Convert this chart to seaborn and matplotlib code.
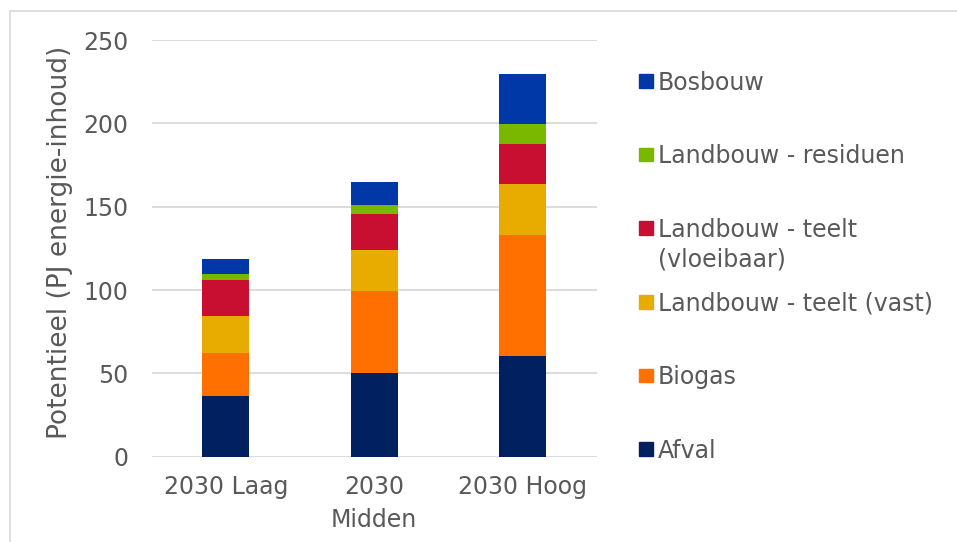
import matplotlib
matplotlib.use("Agg")
import matplotlib.pyplot as plt
import seaborn as sns
import numpy as np
import pandas as pd
from matplotlib.patches import Rectangle
from matplotlib.lines import Line2D

# Data (PJ energy content)
scenarios = ["2030 Laag", "2030\nMidden", "2030 Hoog"]
series = ["Afval", "Biogas", "Landbouw - teelt (vast)",
          "Landbouw - teelt\n(vloeibaar)", "Landbouw - residuen", "Bosbouw"]
afval = [36.4, 50.0, 60.6]
biogas = [26.0, 49.4, 72.4]
teelt_vast = [22.0, 24.4, 30.6]
teelt_vloeibaar = [21.8, 21.6, 24.2]
residuen = [3.4, 5.6, 12.0]
bosbouw = [9.0, 13.6, 29.6]
colors = ["#002060", "#FF7000", "#E8AB00", "#C80F32", "#7AB800", "#0038A8"]

values = [afval, biogas, teelt_vast, teelt_vloeibaar, residuen, bosbouw]
df = pd.DataFrame(np.array(values).T, columns=series)
df["scenario"] = scenarios
cum = df[series].cumsum(axis=1)

sns.set_theme(style="white")
plt.rcParams["font.family"] = ["DejaVu Sans"]
txt = "#595959"
fs = 17

fig = plt.figure(figsize=(9.57, 5.42), dpi=100)
ax = fig.add_axes([151.7 / 957, 1 - 456.7 / 542, 445 / 957, 416.7 / 542])

# stacked bars: draw cumulative totals from top to bottom
for name, col in reversed(list(zip(series, colors))):
    sns.barplot(x=df["scenario"], y=cum[name], color=col, width=0.316,
                saturation=1, linewidth=0, ax=ax, zorder=3)

ax.set_ylim(0, 250)
ax.set_xlim(-0.5, 2.5)
ax.set_yticks([0, 50, 100, 150, 200, 250])
ax.yaxis.grid(True, color="#d9d9d9", linewidth=1.3)
ax.set_axisbelow(True)
for s in ax.spines.values():
    s.set_visible(False)
ax.tick_params(axis="y", length=0, pad=17, labelsize=fs, labelcolor=txt)
ax.tick_params(axis="x", length=0, pad=13, labelsize=fs, labelcolor=txt)
for lab in ax.get_xticklabels():
    lab.set_linespacing(1.5)
ax.set_xlabel("")
ax.set_ylabel("")
fig.text(60 / 957, 1 - 242.5 / 542, "Potentieel (PJ energie-inhoud)",
         rotation=90, ha="center", va="center", fontsize=19, color=txt)

# legend, top to bottom
step = 73.6
for i, (name, col) in enumerate(reversed(list(zip(series, colors)))):
    yc = 81 + i * step
    fig.patches.append(Rectangle((639 / 957, 1 - (yc + 6.8) / 542), 13.7 / 957, 13.7 / 542,
                                 transform=fig.transFigure, color=col))
    for k, line in enumerate(name.split("\n")):
        fig.text(658 / 957, 1 - (yc + 8.5 + k * 29.5) / 542, line,
                 ha="left", va="baseline", fontsize=fs, color=txt)

# light frame around the chart
fig.lines.append(Line2D([9.5 / 957, 1], [1 - 10.5 / 542, 1 - 10.5 / 542],
                        transform=fig.transFigure, color="#d9d9d9", linewidth=1.2))
fig.lines.append(Line2D([9.5 / 957, 9.5 / 957], [0, 1 - 10.5 / 542],
                        transform=fig.transFigure, color="#d9d9d9", linewidth=1.2))

fig.savefig("out.png", dpi=100, facecolor="white")
